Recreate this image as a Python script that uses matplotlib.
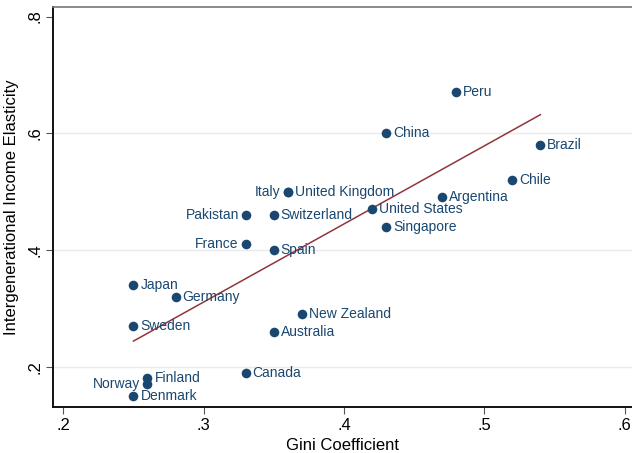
import numpy as np
import matplotlib
matplotlib.use("Agg")
import matplotlib.pyplot as plt

plt.rcParams['font.family'] = ['Liberation Sans', 'DejaVu Sans']

countries = ["Peru", "China", "Brazil", "Chile", "Argentina", "United States",
             "Singapore", "Italy", "United Kingdom", "Pakistan", "Switzerland",
             "France", "Spain", "Japan", "Germany", "Sweden", "New Zealand",
             "Australia", "Canada", "Finland", "Norway", "Denmark"]
gini = [0.48, 0.43, 0.54, 0.52, 0.47, 0.42,
        0.43, 0.36, 0.36, 0.33, 0.35,
        0.33, 0.35, 0.25, 0.28, 0.25, 0.37,
        0.35, 0.33, 0.26, 0.26, 0.25]
elasticity = [0.67, 0.60, 0.58, 0.52, 0.49, 0.47,
              0.44, 0.50, 0.50, 0.46, 0.46,
              0.41, 0.40, 0.34, 0.32, 0.27, 0.29,
              0.26, 0.19, 0.18, 0.17, 0.15]
label_left = ["Italy", "Pakistan", "France", "Norway"]

xticks = [0.2, 0.3, 0.4, 0.5, 0.6]
xticklabels = [".2", ".3", ".4", ".5", ".6"]
yticks = [0.2, 0.4, 0.6, 0.8]
yticklabels = [".2", ".4", ".6", ".8"]

navy = "#1a476f"
maroon = "#90353b"

fig = plt.figure(figsize=(6.32, 4.53), dpi=100)
ax = fig.add_axes([0.0844, 0.1022, 0.9156, 0.883])

ax.set_xlim(0.1929, 0.6053)
ax.set_ylim(0.1314, 0.817)

for y in [0.2, 0.4, 0.6]:
    ax.axhline(y, color="#eaeaea", lw=1.0, zorder=0)

ax.scatter(gini, elasticity, s=48, color=navy, zorder=3, linewidths=0)

# linear fit across the observed range
x = np.array(gini)
yv = np.array(elasticity)
b, a = np.polyfit(x, yv, 1)
xs = np.array([x.min(), x.max()])
ax.plot(xs, a + b * xs, color=maroon, lw=1.1, zorder=2)

for c, gx, gy in zip(countries, gini, elasticity):
    if c in label_left:
        ax.annotate(c, (gx, gy), xytext=(-5, 0), textcoords="offset points",
                    ha="right", va="center", color=navy, fontsize=10, zorder=4)
    else:
        ax.annotate(c, (gx, gy), xytext=(5, 0), textcoords="offset points",
                    ha="left", va="center", color=navy, fontsize=10, zorder=4)

ax.set_xticks(xticks)
ax.set_xticklabels(xticklabels, fontsize=12)
ax.set_yticks(yticks)
ax.set_yticklabels(yticklabels, fontsize=12, rotation=90, va="center")
ax.tick_params(axis="both", direction="out", length=5, width=0.8, color="#555555", pad=3)

ax.set_xlabel("Gini Coefficient", fontsize=12, labelpad=4)
ax.set_ylabel("Intergenerational Income Elasticity", fontsize=12, labelpad=6)

ax.spines["right"].set_visible(False)
ax.spines["top"].set_color("#777777")
ax.spines["top"].set_linewidth(1.2)
ax.spines["left"].set_color("#111111")
ax.spines["left"].set_linewidth(1.4)
ax.spines["bottom"].set_color("#111111")
ax.spines["bottom"].set_linewidth(1.4)

fig.savefig("out.png", dpi=100)
